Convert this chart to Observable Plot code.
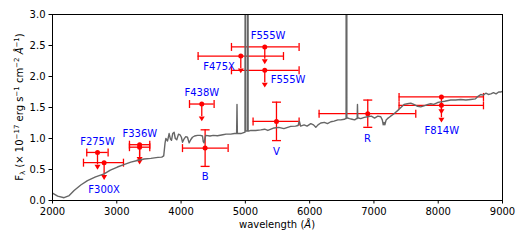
<!DOCTYPE html>
<html><head><meta charset="utf-8">
<script src="https://cdn.jsdelivr.net/npm/d3@7"></script>
<script src="https://cdn.jsdelivr.net/npm/@observablehq/plot@0.6"></script>
<style>body{margin:0;background:#fff}</style>
</head><body><div id="chart"></div>
<script>
// Spectrum (wavelength in Å, flux in 1e-17 erg/s/cm2/Å)
const specWave = [2000,2080,2180,2260,2336,2440,2544,2670,2803,2900,3010,3110,3218,3320,3425,3530,3640,3700,3730,3750,3763,3790,3814,3835,3851,3870,3892,3910,3933,3960,3984,4005,4022,4045,4073,4100,4125,4150,4177,4210,4255,4300,4333,4345,4358,4372,4384,4450,4500,4566,4650,4700,4773,4830,4851,4864,4870,4876,4930,4985,4994,4999,5004,5025,5033,5038,5043,5052,5084,5160,5240,5300,5350,5447,5520,5600,5706,5780,5820,5840,5860,5914,5960,6018,6060,6096,6130,6173,6230,6277,6330,6380,6440,6484,6540,6560,6567,6573,6579,6588,6620,6660,6700,6730,6739,6744,6749,6758,6795,6850,6899,6960,7010,7060,7106,7130,7145,7158,7170,7190,7210,7260,7313,7390,7469,7520,7573,7620,7680,7728,7790,7840,7884,7930,7990,8040,8100,8195,8270,8350,8430,8506,8580,8620,8662,8700,8740,8780,8818,8860,8900,8940,8973,9000];
const specFlux = [0.12,0.07,0.045,0.08,0.16,0.25,0.32,0.38,0.43,0.49,0.54,0.58,0.62,0.645,0.67,0.68,0.695,0.70,0.72,0.92,1.00,0.96,1.08,0.99,0.97,1.08,1.10,1.00,0.98,1.07,1.06,1.02,0.94,0.99,1.03,1.02,0.93,0.98,1.02,1.04,1.05,1.05,1.04,0.95,0.93,1.00,1.05,1.04,1.05,1.045,1.06,1.07,1.07,1.08,1.08,1.08,1.55,1.08,1.08,1.10,1.10,6,1.12,1.12,1.12,20,1.12,1.12,1.13,1.13,1.14,1.15,1.13,1.17,1.18,1.16,1.195,1.20,1.21,1.28,1.20,1.22,1.20,1.24,1.22,1.18,1.22,1.25,1.26,1.24,1.27,1.28,1.30,1.30,1.31,1.32,1.32,25,1.33,1.33,1.32,1.31,1.30,1.32,1.32,1.55,1.33,1.33,1.32,1.34,1.35,1.36,1.33,1.36,1.35,1.30,1.22,1.26,1.22,1.30,1.32,1.36,1.40,1.47,1.55,1.56,1.57,1.55,1.52,1.51,1.53,1.55,1.56,1.55,1.58,1.59,1.60,1.62,1.62,1.63,1.62,1.63,1.64,1.68,1.71,1.70,1.73,1.71,1.72,1.74,1.72,1.75,1.75,1.76];

// Photometric points
const ptFilter = ["F275W","F300X","F336W","F336W","F438W","B","F475X","F555W","F555W","V","R","F814W","F814W"];
const ptWave   = [2700,2803,3355,3355,4322,4374,4929,5302,5302,5484,6904,8050,8050];
const ptFlux   = [0.775,0.61,0.90,0.86,1.556,0.845,2.33,2.477,2.10,1.276,1.40,1.67,1.535];
const ptWaveLo = [2533,2482,3197,3197,4131,4022,4265,4784,4784,5120,6147,7391,7391];
const ptWaveHi = [2865,3104,3513,3513,4514,4732,5593,5836,5836,5836,7651,8704,8704];
const ptErr    = [0,0,0,0,0,0.295,0,0,0,0.31,0.22,0,0];
const ptLimit  = [0.2,0.2,0.2,0.2,0.2,0,0.2,0.2,0.2,0,0,0.2,0.2]; // upper-limit arrow length

// Annotation labels
const labelText = ["F275W","F300X","F336W","F438W","B","F475X","F555W","F555W","V","R","F814W"];
const labelWave = [2700,2803,3358,4322,4374,4591,5353,5664,5484,6899,8055];
const labelFlux = [0.94,0.17,1.08,1.73,0.376,2.15,2.65,1.94,0.78,0.99,1.13];

const xTicks = [2000,3000,4000,5000,6000,7000,8000,9000];
const yTicks = [0,0.5,1,1.5,2,2.5,3];

const spec = specWave.map((w,i)=>({w, f:specFlux[i]}));
const pts = ptFilter.map((name,i)=>({name, w:ptWave[i], f:ptFlux[i], lo:ptWaveLo[i], hi:ptWaveHi[i], err:ptErr[i], lim:ptLimit[i]}));
const errPts = pts.filter(d=>d.err>0);
const limPts = pts.filter(d=>d.lim>0);
const labels = labelText.map((t,i)=>({t, w:labelWave[i], f:labelFlux[i]}));

const vCap = {draw(ctx,size){const r=Math.sqrt(size/Math.PI); ctx.moveTo(0,-r); ctx.lineTo(0,r);}};
const hCap = {draw(ctx,size){const r=Math.sqrt(size/Math.PI); ctx.moveTo(-r,0); ctx.lineTo(r,0);}};
const caret = {draw(ctx,size){const r=Math.sqrt(size/Math.PI); ctx.moveTo(-r,0); ctx.lineTo(r,0); ctx.lineTo(0,r*1.6); ctx.closePath();}};

const red = "red";
const chart = Plot.plot({
  width: 525, height: 245,
  marginLeft: 52, marginRight: 23, marginTop: 14, marginBottom: 45,
  style: {fontFamily: "DejaVu Sans, sans-serif", fontSize: "10px", color: "black", background: "white"},
  x: {domain: [2000, 9000]},
  y: {domain: [0, 3]},
  marks: [
    Plot.ruleY(pts, {y:"f", x1:"lo", x2:"hi", stroke:red, strokeWidth:1.3}),
    Plot.dot(pts, {x:"lo", y:"f", symbol:vCap, r:4, stroke:red, strokeWidth:1.3, fill:"none"}),
    Plot.dot(pts, {x:"hi", y:"f", symbol:vCap, r:4, stroke:red, strokeWidth:1.3, fill:"none"}),
    Plot.ruleX(errPts, {x:"w", y1:d=>d.f-d.err, y2:d=>d.f+d.err, stroke:red, strokeWidth:1.3}),
    Plot.dot(errPts, {x:"w", y:d=>d.f+d.err, symbol:hCap, r:4.5, stroke:red, strokeWidth:1.3, fill:"none"}),
    Plot.dot(errPts, {x:"w", y:d=>d.f-d.err, symbol:hCap, r:4.5, stroke:red, strokeWidth:1.3, fill:"none"}),
    Plot.ruleX(limPts, {x:"w", y1:"f", y2:d=>d.f-d.lim, stroke:red, strokeWidth:1.3}),
    Plot.dot(limPts, {x:"w", y:d=>d.f-d.lim, symbol:caret, r:3, fill:red, stroke:"none"}),
    Plot.dot(pts, {x:"w", y:"f", r:2.5, fill:red, stroke:"none"}),
    Plot.text(labels, {x:"w", y:"f", text:"t", fill:"blue", fontSize:10}),
    Plot.line(spec, {x:"w", y:"f", stroke:"#666", strokeWidth:1.4, clip:true}),
    Plot.frame({stroke:"black", strokeWidth:1}),
    Plot.axisX({ticks:xTicks, tickFormat:d=>String(d), tickSize:3.5, tickPadding:3.4, fontSize:10, label:null}),
    Plot.axisY({ticks:yTicks, tickFormat:d3.format(".1f"), tickSize:3.5, tickPadding:3.5, fontSize:10, label:null})
  ]
});
document.getElementById("chart").appendChild(chart);

const svg = d3.select(chart);
// x label
const xl = svg.append("text").attr("x", 277).attr("y", 228).attr("text-anchor","middle")
  .attr("font-size",10).attr("font-family","DejaVu Sans, sans-serif").attr("fill","black");
xl.append("tspan").text("wavelength (");
xl.append("tspan").attr("font-style","italic").text("Å");
xl.append("tspan").text(")");
// y label
const yl = svg.append("text").attr("transform","translate(22.5,107) rotate(-90)").attr("text-anchor","middle")
  .attr("font-size",10).attr("font-family","DejaVu Sans, sans-serif").attr("fill","black");
const parts = [["F",0,10],["λ",2,7],["(× 10",-2,10],["−17",-4,7],[" erg s",4,10],["−1",-4,7],[" cm",4,10],["−2",-4,7],[" ",4,10],["Å",0,10,true],["−1",-4,7],[")",4,10]];
parts.forEach(([t,dy,fs,it],i)=>{
  const ts = yl.append("tspan").attr("dy",dy).attr("font-size",fs).text(i===2?"\u00a0" + t:t);
  if(it) ts.attr("font-style","italic");
});
</script>
</body></html>
